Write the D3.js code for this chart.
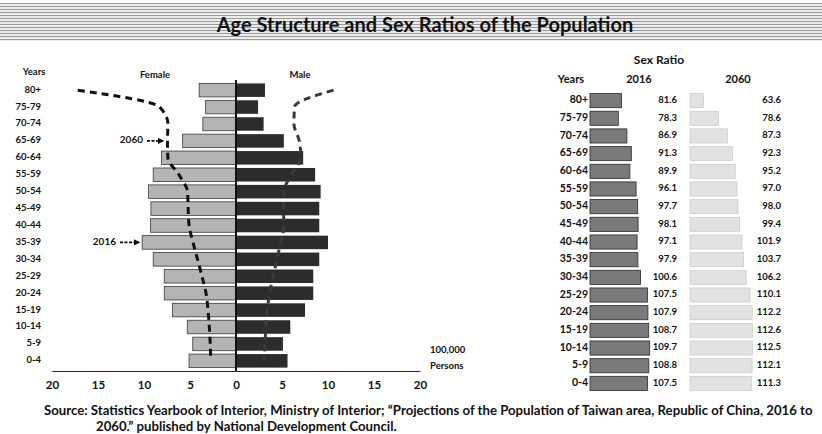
<!DOCTYPE html>
<html>
<head>
<meta charset="utf-8">
<script src="https://cdn.jsdelivr.net/npm/d3@7"></script>
<style>
  body { margin: 0; background: #fff; }
  text { font-family: Lato, "Open Sans", sans-serif; fill: #111; }
</style>
</head>
<body>
<div id="chart"></div>
<script>
var ages = ["80+", "75-79", "70-74", "65-69", "60-64", "55-59", "50-54", "45-49", "40-44",
            "35-39", "30-34", "25-29", "20-24", "15-19", "10-14", "5-9", "0-4"];

// persons, in 100,000
var female2016 = [4.0, 3.3, 3.6, 5.8, 8.1, 9.0, 9.5, 9.25, 9.3, 10.2, 9.0, 7.8, 7.8, 6.9, 5.3, 4.7, 5.1];
var male2016   = [3.15, 2.4, 3.0, 5.2, 7.3, 8.6, 9.2, 9.05, 9.05, 10.0, 9.05, 8.4, 8.4, 7.5, 5.9, 5.1, 5.6];
var female2060 = [17.2, 8.3, 7.4, 7.45, 7.4, 6.2, 5.27, 5.2, 5.1, 4.67, 4.18, 3.7, 3.26, 3.04, 2.9, 2.8, 2.75];
var male2060   = [10.6, 6.35, 6.3, 6.88, 7.05, 6.0, 5.2, 5.17, 5.2, 4.85, 4.45, 4.05, 3.65, 3.4, 3.25, 3.15, 3.07];

// sex ratio (males per 100 females)
var ratio2016 = [81.6, 78.3, 86.9, 91.3, 89.9, 96.1, 97.7, 98.1, 97.1, 97.9, 100.6, 107.5, 107.9, 108.7, 109.7, 108.8, 107.5];
var ratio2060 = [63.6, 78.6, 87.3, 92.3, 95.2, 97.0, 98.0, 99.4, 101.9, 103.7, 106.2, 110.1, 112.2, 112.6, 112.5, 112.1, 111.3];

var xTicks = [0, 5, 10, 15, 20];

var W = 822, H = 434;

var svg = d3.select("#chart")
    .append("svg")
    .attr("width", W)
    .attr("height", H);

var defs = svg.append("defs");

// scanned looking banner behind the title
var pat = defs.append("pattern")
    .attr("id", "banner")
    .attr("width", 6).attr("height", 3)
    .attr("patternUnits", "userSpaceOnUse");
pat.append("rect").attr("width", 6).attr("height", 3).attr("fill", "#ececec");
pat.append("rect").attr("width", 6).attr("height", 1).attr("fill", "#9a9a9a");

var arrow = defs.append("marker")
    .attr("id", "head")
    .attr("viewBox", "0 0 10 10")
    .attr("refX", 8).attr("refY", 5)
    .attr("markerWidth", 4).attr("markerHeight", 4)
    .attr("orient", "auto");
arrow.append("path").attr("d", "M0,0L10,5L0,10z").attr("fill", "#111");

svg.append("rect")
    .attr("x", 0).attr("y", 3)
    .attr("width", W).attr("height", 38)
    .attr("fill", "url(#banner)");

svg.append("text")
    .attr("x", 425).attr("y", 27)
    .attr("text-anchor", "middle")
    .attr("dominant-baseline", "middle")
    .attr("font-weight", "bold")
    .style("font-size", "20px")
    .text("Age Structure and Sex Ratios of the Population");

// ---- population pyramid ----
var cx = 236;
var xL = d3.scaleLinear().domain([0, 20]).range([cx, cx - 184]);
var xR = d3.scaleLinear().domain([0, 20]).range([cx, cx + 184]);
var y = d3.scaleBand().domain(ages).range([80, 371]).padding(0.2);

var pyr = svg.append("g");

pyr.selectAll(".fbar")
    .data(ages)
    .enter()
    .append("rect")
    .attr("class", "fbar")
    .attr("x", function(d, i) { return xL(female2016[i]); })
    .attr("y", function(d) { return y(d); })
    .attr("width", function(d, i) { return cx - xL(female2016[i]); })
    .attr("height", y.bandwidth())
    .attr("fill", "#b4b4b4")
    .attr("stroke", "#3a3a3a")
    .attr("stroke-width", 0.8);

pyr.selectAll(".mbar")
    .data(ages)
    .enter()
    .append("rect")
    .attr("class", "mbar")
    .attr("x", cx)
    .attr("y", function(d) { return y(d); })
    .attr("width", function(d, i) { return xR(male2016[i]) - cx; })
    .attr("height", y.bandwidth())
    .attr("fill", "#2c2c2c");

var line = d3.line().curve(d3.curveMonotoneY);

pyr.append("path")
    .attr("d", line(ages.map(function(d, i) { return [xL(female2060[i]), y(d) + y.bandwidth() / 2]; })))
    .attr("fill", "none")
    .attr("stroke", "#111")
    .attr("stroke-width", 3)
    .attr("stroke-dasharray", "7,5");

pyr.append("path")
    .attr("d", line(ages.map(function(d, i) { return [xR(male2060[i]), y(d) + y.bandwidth() / 2]; })))
    .attr("fill", "none")
    .attr("stroke", "#3a3a3a")
    .attr("stroke-width", 3)
    .attr("stroke-dasharray", "7,5");

// centre line
pyr.append("line")
    .attr("x1", cx).attr("x2", cx)
    .attr("y1", 80).attr("y2", 371)
    .attr("stroke", "#111")
    .attr("stroke-width", 2);

pyr.append("g")
    .attr("transform", "translate(0,371)")
    .call(d3.axisBottom(xL).tickValues(xTicks).tickSize(0).tickPadding(10));
pyr.append("g")
    .attr("transform", "translate(0,371)")
    .call(d3.axisBottom(xR).tickValues(xTicks.slice(1)).tickSize(0).tickPadding(10));
pyr.selectAll(".domain").attr("stroke", "#222").attr("stroke-width", 1.2);
pyr.selectAll(".tick text")
    .attr("font-family", "Lato")
    .attr("font-weight", "bold")
    .style("font-size", "11.5px")
    .attr("fill", "#111");

pyr.selectAll(".age")
    .data(ages)
    .enter()
    .append("text")
    .attr("class", "age")
    .attr("x", 41)
    .attr("y", function(d) { return y(d) + y.bandwidth() / 2; })
    .attr("text-anchor", "end")
    .attr("dominant-baseline", "middle")
    .attr("font-weight", "bold")
    .style("font-size", "9.5px")
    .text(function(d) { return d; });

pyr.append("text").attr("x", 34).attr("y", 75)
    .attr("text-anchor", "middle").attr("font-weight", "bold")
    .style("font-size", "9.5px").text("Years");
pyr.append("text").attr("x", 155).attr("y", 78)
    .attr("text-anchor", "middle").attr("font-weight", "bold")
    .style("font-size", "9.5px").text("Female");
pyr.append("text").attr("x", 300).attr("y", 78)
    .attr("text-anchor", "middle").attr("font-weight", "bold")
    .style("font-size", "9.5px").text("Male");

pyr.append("text").attr("x", 430).attr("y", 353)
    .attr("font-weight", "bold").style("font-size", "9.5px").text("100,000");
pyr.append("text").attr("x", 430).attr("y", 369)
    .attr("font-weight", "bold").style("font-size", "9.5px").text("Persons");

// year call-outs
function callout(label, row, x0, x1) {
    var yy = y(row) + y.bandwidth() / 2;
    pyr.append("text")
        .attr("x", x0 - 4).attr("y", yy)
        .attr("text-anchor", "end")
        .attr("dominant-baseline", "middle")
        .attr("font-weight", "bold")
        .style("font-size", "10px")
        .text(label);
    pyr.append("line")
        .attr("x1", x0).attr("x2", x1)
        .attr("y1", yy).attr("y2", yy)
        .attr("stroke", "#111")
        .attr("stroke-width", 1.6)
        .attr("stroke-dasharray", "3,1.5")
        .attr("marker-end", "url(#head)");
}
callout("2060", "65-69", 147, 163);
callout("2016", "35-39", 120, 139);

// ---- sex ratio table ----
var ty = d3.scaleBand().domain(ages).range([90, 394]).padding(0.2);
var r16 = d3.scaleLinear().domain([50, 120]).range([590, 660]);
var r60 = d3.scaleLinear().domain([50, 120]).range([690, 760]);

var tab = svg.append("g");

tab.append("text").attr("x", 659).attr("y", 64)
    .attr("text-anchor", "middle").attr("font-weight", "bold")
    .style("font-size", "12px").text("Sex Ratio");
tab.append("text").attr("x", 571).attr("y", 83)
    .attr("text-anchor", "middle").attr("font-weight", "bold")
    .style("font-size", "11px").text("Years");
tab.append("text").attr("x", 639).attr("y", 83)
    .attr("text-anchor", "middle").attr("font-weight", "bold")
    .style("font-size", "11px").text("2016");
tab.append("text").attr("x", 738).attr("y", 83)
    .attr("text-anchor", "middle").attr("font-weight", "bold")
    .style("font-size", "11px").text("2060");

tab.selectAll(".b16")
    .data(ages)
    .enter()
    .append("rect")
    .attr("x", r16(50))
    .attr("y", function(d) { return ty(d); })
    .attr("width", function(d, i) { return r16(ratio2016[i]) - r16(50); })
    .attr("height", ty.bandwidth())
    .attr("fill", "#7a7a7a")
    .attr("stroke", "#2a2a2a")
    .attr("stroke-width", 0.8);

tab.selectAll(".b60")
    .data(ages)
    .enter()
    .append("rect")
    .attr("x", r60(50))
    .attr("y", function(d) { return ty(d); })
    .attr("width", function(d, i) { return r60(ratio2060[i]) - r60(50); })
    .attr("height", ty.bandwidth())
    .attr("fill", "#e2e2e2")
    .attr("stroke", "#c4c4c4")
    .attr("stroke-width", 0.6);

function column(vals, x, size) {
    tab.selectAll(null)
        .data(ages)
        .enter()
        .append("text")
        .attr("x", x)
        .attr("y", function(d) { return ty(d) + ty.bandwidth() / 2; })
        .attr("text-anchor", "end")
        .attr("dominant-baseline", "middle")
        .attr("font-weight", "bold")
        .style("font-size", size)
        .text(function(d, i) { return vals ? vals[i].toFixed(1) : d; });
}
column(null, 588, "10.5px");
column(ratio2016, 677, "9.5px");
column(ratio2060, 781, "9.5px");

// ---- source ----
svg.append("text").attr("x", 44).attr("y", 415)
    .attr("font-weight", "bold")
    .style("font-size", "13.2px")
    .text("Source: Statistics Yearbook of Interior, Ministry of Interior; \u201cProjections of the Population of Taiwan area, Republic of China, 2016 to");
svg.append("text").attr("x", 96).attr("y", 431)
    .attr("font-weight", "bold")
    .style("font-size", "13.2px")
    .text("2060.\u201d published by National Development Council.");
</script>
</body>
</html>
